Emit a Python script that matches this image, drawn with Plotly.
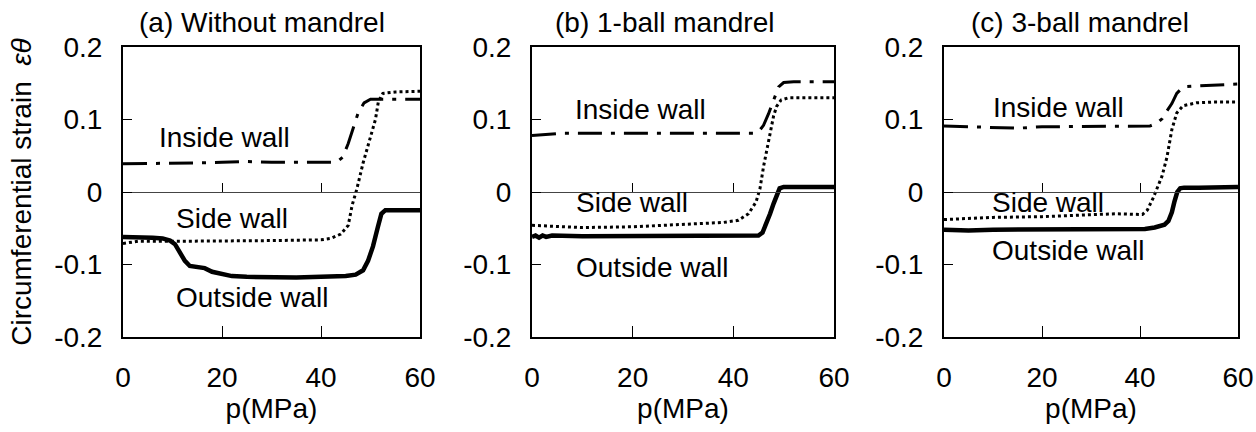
import plotly.graph_objects as go

# ---------------- data ----------------
panel_titles = ["(a) Without mandrel", "(b) 1-ball mandrel", "(c) 3-ball mandrel"]
x_ticks = [0, 20, 40, 60]
y_ticks = [-0.2, -0.1, 0, 0.1, 0.2]
y_ticktext = ["-0.2", "-0.1", "0", "0.1", "0.2"]

# Panel (a) Without mandrel
a_in_x = [0, 5, 10, 15, 20, 25, 30, 35, 40, 42.5, 43.5, 44.4, 45.5, 46.5, 47.5, 48.7, 50, 52, 55, 60]
a_in_y = [0.039, 0.039, 0.040, 0.040, 0.041, 0.042, 0.041, 0.041, 0.041, 0.041, 0.043, 0.048, 0.067, 0.088, 0.109, 0.123, 0.128, 0.128, 0.128, 0.128]
a_side_x = [0, 3, 10, 20, 30, 40, 42, 44, 45.5, 46.3, 47.2, 48.5, 50, 51, 51.6, 52.5, 55, 60]
a_side_y = [-0.071, -0.068, -0.068, -0.068, -0.067, -0.066, -0.064, -0.058, -0.046, -0.018, 0.003, 0.040, 0.075, 0.100, 0.125, 0.136, 0.138, 0.139]
a_out_x = [0, 3, 6, 8, 9.5, 10.5, 11.5, 12.5, 13.5, 15, 16.5, 18, 20, 22, 25, 30, 35, 40, 45, 47, 48.5, 49.5, 50.5, 51.5, 52.2, 53, 55, 60]
a_out_y = [-0.062, -0.062, -0.063, -0.064, -0.067, -0.072, -0.083, -0.095, -0.102, -0.103, -0.105, -0.110, -0.113, -0.116, -0.117, -0.118, -0.118, -0.117, -0.116, -0.114, -0.108, -0.095, -0.075, -0.048, -0.030, -0.025, -0.025, -0.025]

# Panel (b) 1-ball mandrel
b_in_x = [0, 3, 6, 10, 20, 30, 35, 40, 44, 45, 46, 47, 48, 49, 50, 52, 55, 60]
b_in_y = [0.078, 0.080, 0.081, 0.081, 0.081, 0.080, 0.081, 0.081, 0.081, 0.083, 0.092, 0.108, 0.128, 0.145, 0.151, 0.152, 0.152, 0.152]
b_side_x = [0, 5, 10, 20, 30, 38, 41, 43, 44.5, 45.3, 46, 46.7, 47.3, 48, 48.6, 49.5, 51, 55, 60]
b_side_y = [-0.046, -0.048, -0.049, -0.048, -0.045, -0.042, -0.039, -0.030, -0.014, 0.005, 0.035, 0.060, 0.085, 0.105, 0.118, 0.127, 0.130, 0.130, 0.130]
b_out_x = [0, 0.7, 1.4, 2.1, 2.8, 4, 10, 20, 30, 40, 45, 45.8, 46.5, 47.3, 48, 48.6, 49.2, 50, 55, 60]
b_out_y = [-0.062, -0.060, -0.063, -0.060, -0.062, -0.060, -0.061, -0.061, -0.061, -0.061, -0.060, -0.056, -0.045, -0.030, -0.016, -0.004, 0.005, 0.007, 0.007, 0.007]

# Panel (c) 3-ball mandrel
c_in_x = [0, 5, 10, 15, 20, 30, 40, 42, 43.5, 44.5, 45.5, 46.5, 47.5, 48.8, 51, 55, 60]
c_in_y = [0.091, 0.090, 0.089, 0.088, 0.090, 0.090, 0.090, 0.091, 0.095, 0.101, 0.112, 0.122, 0.136, 0.145, 0.146, 0.147, 0.149]
c_side_x = [0, 5, 10, 20, 30, 35, 40.5, 41.5, 42.7, 43.7, 44.5, 45.5, 46.5, 47.5, 48.8, 51.5, 55, 60]
c_side_y = [-0.038, -0.036, -0.035, -0.034, -0.032, -0.030, -0.031, -0.025, -0.008, 0.008, 0.022, 0.048, 0.086, 0.109, 0.119, 0.123, 0.124, 0.124]
c_out_x = [0, 5, 10, 20, 30, 38, 41, 43, 45, 45.8, 46.5, 47, 47.6, 48.2, 49, 52, 56, 60]
c_out_y = [-0.052, -0.053, -0.052, -0.052, -0.052, -0.052, -0.051, -0.049, -0.045, -0.040, -0.028, -0.014, 0.000, 0.005, 0.006, 0.006, 0.006, 0.007]

# curve label texts and their (data) anchor points per panel
label_texts = ["Inside wall", "Side wall", "Outside wall"]
a_label_x = [20.6, 22.0, 26.2]
a_label_y = [0.0745, -0.036, -0.145]
b_label_x = [21.5, 19.8, 24.0]
b_label_y = [0.114, -0.014, -0.104]
c_label_x = [23.3, 21.3, 25.5]
c_label_y = [0.117, -0.014, -0.080]

# ---------------- figure ----------------
FONT = "Liberation Sans, Arial, sans-serif"
FS = 28
fig = go.Figure()

panels = [
    (a_in_x, a_in_y, a_side_x, a_side_y, a_out_x, a_out_y, a_label_x, a_label_y),
    (b_in_x, b_in_y, b_side_x, b_side_y, b_out_x, b_out_y, b_label_x, b_label_y),
    (c_in_x, c_in_y, c_side_x, c_side_y, c_out_x, c_out_y, c_label_x, c_label_y),
]

W, H = 1256, 432
L, R, T, B = 123, 18, 47, 95
px_edges = [(123, 420), (532, 834), (944, 1238)]
span = W - L - R
domains = [((a - L) / span, (b - L) / span) for a, b in px_edges]

for i, (ix, iy, sx, sy, ox, oy, lx, ly) in enumerate(panels):
    xa = "x" if i == 0 else f"x{i+1}"
    ya = "y" if i == 0 else f"y{i+1}"
    fig.add_trace(go.Scatter(x=ix, y=iy, mode="lines", xaxis=xa, yaxis=ya,
                             line=dict(color="black", width=3, dash="24px,9px,4px,9px"),
                             showlegend=False, hoverinfo="skip"))
    fig.add_trace(go.Scatter(x=sx, y=sy, mode="lines", xaxis=xa, yaxis=ya,
                             line=dict(color="black", width=3, dash="3px,3px"),
                             showlegend=False, hoverinfo="skip"))
    fig.add_trace(go.Scatter(x=ox, y=oy, mode="lines", xaxis=xa, yaxis=ya,
                             line=dict(color="black", width=4.5),
                             showlegend=False, hoverinfo="skip"))
    # dummy trace to register the zero-line overlay axis
    fig.add_trace(go.Scatter(x=[None], y=[None], xaxis=f"x{i+4}", yaxis=ya,
                             showlegend=False, hoverinfo="skip"))
    for t, xx, yy in zip(label_texts, lx, ly):
        fig.add_annotation(x=xx, y=yy, xref=xa, yref=ya, text=t, showarrow=False,
                           font=dict(family=FONT, size=FS, color="black"),
                           xanchor="center", yanchor="middle")

    axkey = "xaxis" if i == 0 else f"xaxis{i+1}"
    aykey = "yaxis" if i == 0 else f"yaxis{i+1}"
    fig.update_layout({
        axkey: dict(domain=list(domains[i]), anchor=ya, range=[0, 60],
                    tickvals=x_ticks, ticktext=[str(v) for v in x_ticks],
                    ticks="inside", ticklen=11, tickwidth=1, tickcolor="black",
                    showline=True, linecolor="black", linewidth=2, mirror=True,
                    showgrid=False, zeroline=False, automargin=False,
                    ticklabelstandoff=14,
                    tickfont=dict(family=FONT, size=FS, color="black"),
                    title=dict(text="p(MPa)", standoff=3,
                               font=dict(family=FONT, size=FS, color="black"))),
        aykey: dict(domain=[0, 1], anchor=xa, range=[-0.2, 0.2],
                    tickvals=y_ticks, ticktext=y_ticktext,
                    ticks="inside", ticklen=9, tickwidth=1, tickcolor="black",
                    showline=True, linecolor="black", linewidth=2, mirror=True,
                    showgrid=False, zeroline=False, automargin=False,
                    ticklabelstandoff=13,
                    tickfont=dict(family=FONT, size=FS, color="black")),
        f"xaxis{i+4}": dict(overlaying=xa, anchor="free", position=0.5, side="top",
                            range=[0, 60], tickvals=[20, 40], showticklabels=False,
                            ticks="outside", ticklen=9, tickwidth=1, tickcolor="black",
                            showline=True, linecolor="#444", linewidth=1,
                            showgrid=False, zeroline=False),
    })
    fig.add_annotation(x=[0.1247, 0.486, 0.858][i], y=1.083, xref="paper", yref="paper",
                       text=panel_titles[i], showarrow=False,
                       font=dict(family=FONT, size=FS, color="black"),
                       xanchor="center", yanchor="middle")

fig.update_layout(
    yaxis_title=dict(text="Circumferential strain\u00a0\u00a0<i>εθ</i>", standoff=14,
                     font=dict(family=FONT, size=FS, color="black")),
    width=W, height=H,
    margin=dict(l=L, r=R, t=T, b=B, pad=0),
    paper_bgcolor="white", plot_bgcolor="white",
    font=dict(family=FONT, size=FS, color="black"),
)

fig.write_html("out.html",
               config={"displayModeBar": False},
               post_script="document.body.style.margin='0';document.body.style.overflow='hidden';")
